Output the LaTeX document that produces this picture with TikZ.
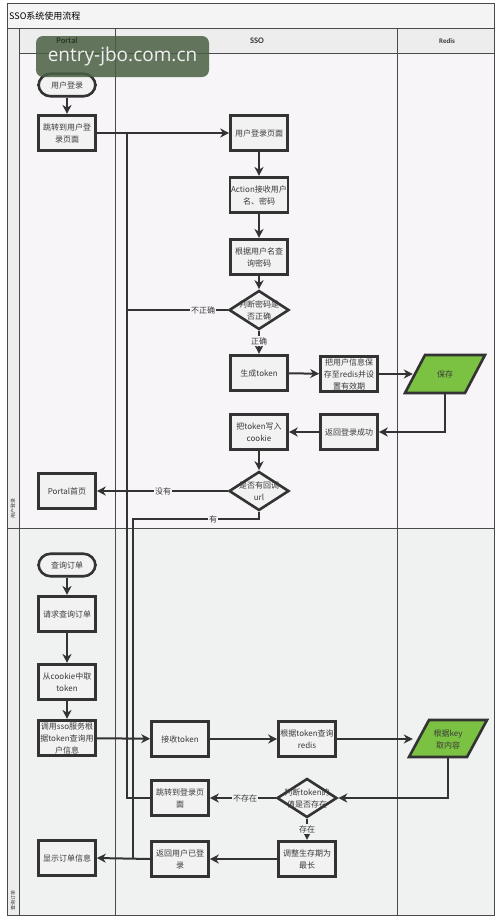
\documentclass[tikz,border=0pt]{standalone}
\usepackage{fontspec}
\newfontfamily\cjk{Noto Sans CJK SC}
\newfontfamily\hdr{Carlito}
\newfontfamily\wmfont{Open Sans}
\usetikzlibrary{shapes.geometric,arrows.meta,calc}
\definecolor{linec}{HTML}{333333}
\definecolor{textc}{HTML}{3A3A3A}
\definecolor{boxfill}{HTML}{F2F2F2}
\definecolor{bgA}{HTML}{F8F5F9}
\definecolor{bgB}{HTML}{F0F1F1}
\definecolor{hdrfill}{HTML}{EDEDED}
\definecolor{framec}{HTML}{4A4A4A}
\definecolor{greenc}{HTML}{7CC242}
\definecolor{wmc}{HTML}{4B5F43}
\tikzset{
  box/.style={draw=linec, line width=2.6pt, fill=boxfill, minimum width=57pt, minimum height=35.5pt,
    align=center, inner sep=1pt, text=textc, font=\cjk\fontsize{8}{12}\selectfont},
  term/.style={box, rounded corners=12pt, minimum height=22.5pt},
  dia/.style={diamond, draw=linec, line width=2.6pt, fill=boxfill, minimum width=60pt,
    minimum height=39pt, inner sep=0pt},
  dtext/.style={align=center, inner sep=0pt, text=textc, font=\cjk\fontsize{8}{12}\selectfont},
  pnode/.style={minimum height=37pt, inner sep=0pt, align=center, text=textc,
    font=\cjk\fontsize{8}{12}\selectfont},
  para/.style={draw=linec, line width=2.6pt, fill=greenc, line join=miter},
  conn/.style={draw=linec, line width=2pt},
  arr/.style={conn, -{Stealth[length=9pt,width=9pt,inset=2.8pt]}},
  elabA/.style={fill=bgA, inner sep=1pt, text=textc, font=\cjk\fontsize{8}{9}\selectfont},
  elabB/.style={fill=bgB, inner sep=1pt, text=textc, font=\cjk\fontsize{8}{9}\selectfont},
  lane/.style={draw=framec, line width=0.8pt},
}
\begin{document}
\begin{tikzpicture}[x=1pt,y=-1pt]
\useasboundingbox (0,0) rectangle (500,921);
\fill[white] (0,0) rectangle (500,921);
% backgrounds
\fill[hdrfill!60] (7,3) rectangle (494,28);
\fill[hdrfill] (7,28) rectangle (19,915);
\fill[hdrfill] (19,28) rectangle (494,53);
\fill[bgA] (19,53) rectangle (494,528);
\fill[bgB] (19,528) rectangle (494,915);
% frame and lanes
\draw[lane] (7,3) rectangle (494,915);
\draw[lane] (7,28) -- (494,28);
\draw[lane] (19,28) -- (19,915);
\draw[lane] (19,53) -- (494,53);
\draw[lane] (115,28) -- (115,915);
\draw[lane] (397,28) -- (397,915);
\draw[lane] (7,528) -- (494,528);
% titles
\node[anchor=west, inner sep=0pt, text=black, font=\cjk\fontsize{9}{10}\selectfont] (title) at (9,16) {SSO系统使用流程};
\node[text=textc, font=\hdr\bfseries\fontsize{8.5}{9}\selectfont] (hs) at (257,41) {SSO};
\node[text=textc, font=\hdr\bfseries\fontsize{7}{8}\selectfont] (hr) at (447,41) {Redis};
\node[rotate=90, inner sep=0pt, text=textc, font=\cjk\fontsize{5}{5}\selectfont] (l1) at (13,508) {用户登录};
\node[rotate=90, inner sep=0pt, text=textc, font=\cjk\fontsize{5}{5}\selectfont] (l2) at (13,900) {查询订单};

% ---- phase 1 nodes
\node[term] (n1) at (67,85) {用户登录};
\node[box] (n2) at (67,133) {跳转到用户登\\录页面};
\node[box] (s1) at (259,133) {用户登录页面};
\node[box] (s2) at (259,195) {Action接收用户\\名、密码};
\node[box] (s3) at (259,257) {根据用户名查\\询密码};
\node[dia] (d1) at (259,310) {};
\node[dtext] (d1t) at (259,310) {判断密码是\\否正确};
\node[box] (s4) at (259,373) {生成token};
\node[box] (s5) at (349,374) {把用户信息保\\存至redis并设\\置有效期};
\filldraw[para] (405,393) -- (425,355) -- (485,355) -- (465,393) -- cycle;
\node[pnode, minimum width=64pt] (r1) at (445,374) {保存};
\node[box] (s6) at (349,432) {返回登录成功};
\node[box] (s7) at (259,432) {把token写入\\cookie};
\node[dia] (d2) at (259,491) {};
\node[dtext] (d2t) at (259,491) {是否有回调\\url};
\node[box] (p1) at (67,491) {Portal首页};

% ---- phase 2 nodes
\node[term] (q1) at (67,565) {查询订单};
\node[box] (q2) at (67,614) {请求查询订单};
\node[box] (q3) at (67,682) {从cookie中取\\token};
\node[box] (q4) at (67,738) {调用sso服务根\\据token查询用\\户信息};
\node[box] (t1) at (180,739) {接收token};
\node[box] (t2) at (307,739) {根据token查询\\redis};
\filldraw[para] (409,757) -- (429,720) -- (487,720) -- (467,757) -- cycle;
\node[pnode, minimum width=70pt] (r2) at (448,739) {根据key\\取内容};
\node[dia] (d3) at (307,798) {};
\node[dtext] (d3t) at (307,798) {判断token的\\值是否存在};
\node[box] (t3) at (180,798) {跳转到登录页\\面};
\node[box] (t4) at (307,859) {调整生存期为\\最长};
\node[box] (t5) at (180,859) {返回用户已登\\录};
\node[box] (q5) at (67,858) {显示订单信息};

% ---- connectors phase 1
\draw[arr] (n1) -- (n2);
\draw[arr] (n2) -- (s1);
\draw[arr] (s1) -- (s2);
\draw[arr] (s2) -- (s3);
\draw[arr] (s3) -- (d1);
\draw[conn] (d1.west) -- (127,310) -- (127,133);
\node[elabA] (lb1) at (203,310) {不正确};
\draw[arr] (d1) -- (s4);
\node[elabA] (lb2) at (259,341) {正确};
\draw[arr] (s4) -- (s5);
\draw[arr] (s5) -- (r1);
\draw[arr] (r1.south) -- (445,432) -- (s6.east);
\draw[arr] (s6) -- (s7);
\draw[arr] (s7) -- (d2);
\draw[arr] (d2.west) -- (p1.east);
\node[elabA] (lb3) at (163,491) {没有};
\draw[conn] (d2.south) -- (259,519) -- (133,519) -- (133,858);
\node[elabA] (lb4) at (213,519) {有};

% ---- connectors phase 2
\draw[arr] (q1) -- (q2);
\draw[arr] (q2) -- (q3);
\draw[arr] (q3) -- (q4);
\draw[arr] (q4) -- (t1);
\draw[arr] (t1) -- (t2);
\draw[arr] (t2) -- (r2);
\draw[arr] (r2.south) -- (448,798) -- (d3.east);
\draw[arr] (d3.west) -- (t3.east);
\node[elabB] (lb5) at (245,798) {不存在};
\draw[arr] (d3) -- (t4);
\node[elabB] (lb6) at (307,829) {存在};
\draw[arr] (t4) -- (t5);
\draw[arr] (t5.west) -- (q5.east);
\draw[conn] (t3.west) -- (127,798) -- (127,133);
\fill[linec] (127,738) circle (1.6pt) (133,738) circle (1.6pt) (133,798) circle (1.6pt);

% watermark
\node[fill=wmc, fill opacity=0.85, text opacity=1, rounded corners=7pt, minimum width=173pt,
  minimum height=41pt, inner sep=0pt, text=white!94!black, font=\wmfont\fontsize{19}{19}\selectfont]
  (wm) at (122.5,56.5) {entry-jbo.com.cn};
\node[text=wmc!60!black, font=\hdr\bfseries\fontsize{8.5}{9}\selectfont] (hp) at (67,41) {Portal};
\end{tikzpicture}
\end{document}
